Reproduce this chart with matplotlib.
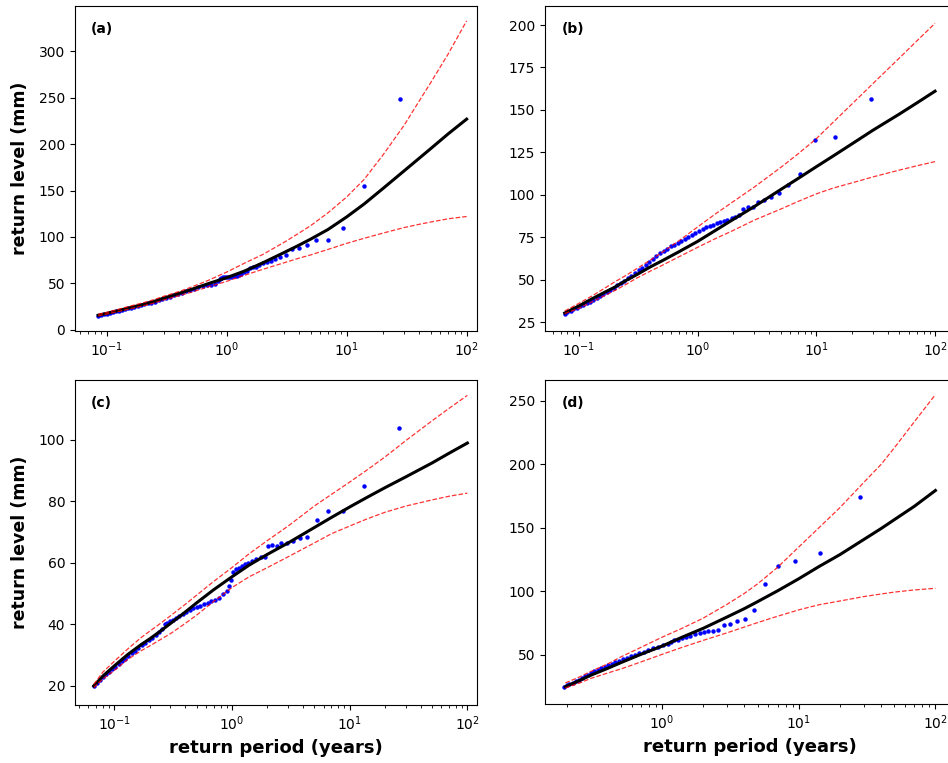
"""Return level plots for four stations: empirical points, fitted return
level curve and confidence bounds, on a log return-period axis.
"""
import matplotlib
matplotlib.use("Agg")
import matplotlib.pyplot as plt

W, H = 948, 763
DPI = 100

# ---- (a) ------------------------------------------------------------------
A_OBS_T = [0.085, 0.090, 0.095, 0.100, 0.106, 0.112, 0.119, 0.126, 0.134, 0.142,
           0.151, 0.160, 0.170, 0.181, 0.193, 0.206, 0.220, 0.236, 0.253, 0.272,
           0.292, 0.314, 0.338, 0.364, 0.393, 0.424, 0.458, 0.495, 0.535, 0.580,
           0.630, 0.685, 0.745, 0.800, 0.848, 0.875, 0.903, 0.933, 0.966, 1.00,
           1.04, 1.08, 1.12, 1.17, 1.22, 1.27, 1.33, 1.40, 1.47, 1.56,
           1.65, 1.75, 1.87, 2.00, 2.15, 2.33, 2.55, 2.80, 3.11, 3.50,
           4.00, 4.67, 5.60, 7.00, 9.33, 14.0, 28.0]
A_OBS = [15.0, 15.8, 16.5, 17.2, 18.0, 18.8, 19.6, 20.5, 21.4, 22.2,
         23.0, 23.8, 24.6, 25.5, 26.4, 27.3, 28.2, 29.2, 30.3, 31.6,
         33.0, 34.3, 35.6, 37.0, 38.3, 39.8, 41.3, 42.8, 44.2, 45.8,
         47.0, 47.8, 48.2, 48.8, 52.0, 55.0, 56.0, 56.3, 56.5, 56.6,
         56.8, 57.0, 57.3, 57.6, 58.0, 58.6, 60.5, 62.0, 63.5, 66.0,
         67.0, 68.0, 70.0, 72.0, 73.0, 74.0, 76.0, 78.0, 80.0, 87.0,
         88.0, 91.0, 97.0, 97.0, 110.0, 155.0, 249.0]
A_T = [0.085, 0.1, 0.13, 0.17, 0.2, 0.25, 0.3, 0.4, 0.5, 0.7, 1, 1.4, 2, 3, 4,
       5, 7, 10, 14, 20, 30, 40, 50, 70, 100]
A_FIT = [15.5, 17.5, 21, 24.8, 27, 30.5, 34, 39, 43, 49.5, 56, 63, 72, 83, 91,
         97.5, 108, 121.5, 135.5, 152, 171, 184.5, 195, 211, 227]
A_UP = [16.5, 18.5, 22.5, 26.5, 28.8, 32.5, 36, 41, 45.5, 53, 62, 71.5, 81, 94, 104,
        112, 126, 143, 162, 188, 220, 246, 266, 297, 333]
A_LO = [14.8, 16.8, 20, 23.5, 25.5, 28.8, 32, 36.5, 40, 46, 52, 58.5, 65, 72, 77,
        80.5, 86.5, 93, 98.5, 104, 110, 113.5, 116, 119.5, 122]

# ---- (b) ------------------------------------------------------------------
B_OBS_T = [0.076, 0.080, 0.085, 0.090, 0.096, 0.102, 0.109, 0.116, 0.124, 0.132,
           0.141, 0.150, 0.160, 0.171, 0.183, 0.196, 0.210, 0.225, 0.241, 0.258,
           0.277, 0.297, 0.318, 0.341, 0.366, 0.392, 0.420, 0.450, 0.482, 0.516,
           0.553, 0.592, 0.634, 0.679, 0.727, 0.779, 0.834, 0.893, 0.956, 1.02,
           1.10, 1.18, 1.26, 1.35, 1.45, 1.55, 1.66, 1.78, 1.93, 2.07,
           2.23, 2.42, 2.64, 2.90, 3.22, 3.63, 4.14, 4.83, 5.80, 7.25,
           9.67, 14.5, 29.0]
B_OBS = [30.0, 30.8, 31.6, 32.4, 33.3, 34.2, 35.1, 36.0, 37.0, 38.1,
         39.2, 40.3, 41.5, 42.7, 44.0, 45.3, 46.6, 47.8, 49.2, 50.7,
         52.3, 53.9, 55.4, 57.0, 58.8, 60.6, 62.4, 64.0, 65.6, 67.0,
         68.3, 69.5, 70.6, 71.6, 72.6, 73.8, 75.0, 76.3, 77.6, 78.8,
         79.8, 80.8, 81.6, 82.4, 83.2, 84.0, 84.7, 85.3, 86.0, 87.0,
         88.0, 91.5, 92.5, 93.0, 96.0, 97.0, 98.5, 101.0, 106.0, 112.0,
         132.0, 134.0, 156.5]
B_T = [0.076, 0.1, 0.13, 0.17, 0.2, 0.25, 0.3, 0.4, 0.5, 0.7, 1, 1.4, 2, 3, 5,
       7, 10, 14, 20, 30, 50, 70, 100]
B_FIT = [30.3, 34.5, 38.8, 43, 45.5, 49.5, 52.5, 57.5, 61, 66.5, 72.5, 78.8, 85.5, 93, 103,
         109.5, 116.5, 123, 130, 138, 147.5, 154, 161]
B_UP = [31.5, 36, 40.5, 45.5, 48.6, 52.5, 56, 61.5, 66, 73, 81, 88.5, 96, 104.5, 116,
        124, 133, 143, 153.5, 165.5, 180.5, 190.5, 201]
B_LO = [30, 33, 37, 41, 43.5, 47.2, 50.5, 55, 58.3, 63.5, 69, 74, 79, 85, 91.5,
        96, 100.5, 104, 107, 110.5, 114.5, 117, 119.5]

# ---- (c) ------------------------------------------------------------------
C_OBS_T = [0.067, 0.071, 0.075, 0.080, 0.085, 0.090, 0.096, 0.102, 0.109, 0.116,
           0.124, 0.132, 0.141, 0.150, 0.160, 0.171, 0.183, 0.196, 0.210, 0.225,
           0.240, 0.255, 0.268, 0.282, 0.298, 0.316, 0.336, 0.358, 0.382, 0.408,
           0.436, 0.467, 0.500, 0.536, 0.576, 0.620, 0.668, 0.720, 0.778, 0.840,
           0.900, 0.950, 0.990, 1.03, 1.08, 1.14, 1.21, 1.29, 1.38, 1.49,
           1.61, 1.75, 1.91, 2.02, 2.19, 2.39, 2.63, 2.92, 3.29, 3.76,
           4.38, 5.26, 6.58, 8.77, 13.2, 26.3]
C_OBS = [20.0, 21.0, 21.8, 22.8, 23.8, 24.6, 25.5, 26.2, 27.2, 28.0,
         28.9, 29.7, 30.6, 31.4, 32.3, 33.2, 34.0, 34.9, 35.7, 36.6,
         37.4, 38.5, 40.3, 40.5, 41.0, 41.6, 42.2, 42.8, 43.5, 44.2,
         44.8, 45.3, 45.7, 46.1, 46.6, 47.0, 47.5, 48.0, 48.6, 50.0,
         51.0, 52.5, 54.5, 57.0, 58.0, 58.5, 59.0, 59.5, 60.0, 60.5,
         61.3, 61.8, 62.0, 65.5, 65.8, 65.5, 66.5, 66.5, 67.0, 68.0,
         68.5, 74.0, 77.0, 77.0, 85.0, 104.0]
C_T = [0.067, 0.08, 0.1, 0.13, 0.17, 0.2, 0.25, 0.3, 0.4, 0.5, 0.7, 1, 1.4, 2, 3,
       5, 7, 10, 14, 20, 30, 50, 70, 100]
C_FIT = [20, 23.2, 26.5, 30.2, 33.5, 35.3, 38, 40.3, 44, 47, 51.3, 55.5, 59.3, 62.8, 66.5,
         71.5, 74.8, 78.2, 81.3, 84.5, 88, 92.5, 95.7, 99]
C_UP = [20.5, 24.5, 28, 32, 35.8, 37.8, 40.5, 42.8, 46.5, 49.5, 54, 58.5, 63, 67.3, 72,
        78.5, 82.3, 86.3, 90.2, 94.5, 99.8, 106.2, 110.3, 114.5]
C_LO = [19.5, 22.2, 25, 28.6, 31.5, 33, 35.2, 37, 40.3, 43, 47.5, 52, 55.5, 58.5, 62,
        66.5, 69.5, 72, 74.3, 76.5, 78.5, 80.5, 81.7, 82.7]

# ---- (d) ------------------------------------------------------------------
D_OBS_T = [0.190, 0.200, 0.210, 0.221, 0.233, 0.245, 0.258, 0.272, 0.287, 0.303,
           0.320, 0.338, 0.358, 0.380, 0.403, 0.428, 0.455, 0.485, 0.517, 0.553,
           0.592, 0.635, 0.683, 0.735, 0.793, 0.858, 0.930, 1.01, 1.10, 1.16,
           1.22, 1.30, 1.39, 1.49, 1.61, 1.75, 1.89, 2.02, 2.18, 2.36,
           2.57, 2.83, 3.14, 3.54, 4.04, 4.72, 5.66, 7.08, 9.43, 14.2, 28.3]
D_OBS = [25.0, 26.0, 27.0, 28.0, 29.2, 30.4, 31.8, 33.2, 34.6, 35.8,
         37.0, 38.2, 39.4, 40.6, 41.8, 43.0, 44.2, 45.4, 46.6, 47.8,
         49.0, 50.2, 51.4, 52.6, 54.0, 55.2, 56.5, 57.6, 58.6, 60.5,
         61.5, 62.0, 63.0, 63.8, 65.0, 66.2, 67.0, 68.0, 68.5, 69.0,
         70.0, 73.6, 74.4, 76.5, 78.3, 85.4, 105.7, 120.0, 124.3, 130.0, 174.2]
D_T = [0.196, 0.25, 0.3, 0.4, 0.5, 0.7, 1, 1.4, 2, 3, 4, 5, 7, 10, 14, 20, 30,
       40, 50, 70, 100]
D_FIT = [25, 30, 34, 39.5, 44, 50.5, 57, 64, 71, 80, 86.5, 92, 100.5, 110, 119.5, 129, 141,
         149.5, 156.5, 167, 179.5]
D_UP = [28, 32.8, 37, 43, 48.5, 56, 64, 71, 79, 90, 98.5, 106, 119, 135, 150, 166, 186,
        200, 213, 233.5, 255]
D_LO = [24, 28, 31.5, 35.8, 39, 44.5, 50.5, 56, 61.5, 67.5, 72, 75.5, 80.5, 85.5, 89.5, 92.5, 96,
        98, 99.5, 101.2, 102.5]

PANELS = [
    ("(a)", A_OBS_T, A_OBS, A_T, A_FIT, A_UP, A_LO),
    ("(b)", B_OBS_T, B_OBS, B_T, B_FIT, B_UP, B_LO),
    ("(c)", C_OBS_T, C_OBS, C_T, C_FIT, C_UP, C_LO),
    ("(d)", D_OBS_T, D_OBS, D_T, D_FIT, D_UP, D_LO),
]

# axes boxes in pixels (left, top, right, bottom); right column runs off the edge
BOXES = [(75, 6, 477, 331), (545, 6, 954, 331),
         (75, 380, 477, 705), (545, 380, 954, 704)]
XLIMS = [(0.0545, 122), (0.0518, 144.5), (0.0464, 120.7), (0.139, 136.8)]
YLIMS = [(-1.5, 349), (19.7, 211.2), (13.8, 119.5), (11.4, 266.5)]


def box(l, t, r, b):
    return [l / W, 1 - b / H, (r - l) / W, (b - t) / H]


def draw_panel(ax, tag, obs_t, obs, t, fit, up, lo):
    ax.plot(obs_t, obs, "o", ms=3.2, color="blue", mec="none", zorder=2)
    ax.plot(t, fit, color="black", lw=2.2, zorder=3)
    ax.plot(t, up, "--", color="red", lw=0.9, alpha=0.8, zorder=4)
    ax.plot(t, lo, "--", color="red", lw=0.9, alpha=0.8, zorder=4)
    ax.set_xscale("log")
    ax.tick_params(labelsize=10)
    ax.text(0.04, 0.93, tag, transform=ax.transAxes, fontsize=10,
            fontweight="bold", va="center", ha="left")


def make():
    fig = plt.figure(figsize=(W / DPI, H / DPI), dpi=DPI)
    for i, p in enumerate(PANELS):
        ax = fig.add_axes(box(*BOXES[i]))
        draw_panel(ax, *p)
        ax.set_xlim(*XLIMS[i])
        ax.set_ylim(*YLIMS[i])
        if i % 2 == 0:
            ax.set_ylabel("return level (mm)", fontsize=12.5, fontweight="bold")
            ax.yaxis.set_label_coords(-0.115, 0.5)
        if i >= 2:
            ax.set_xlabel("return period (years)", fontsize=13, fontweight="bold")
    fig.savefig("out.png", dpi=DPI)
    plt.close(fig)


if __name__ == "__main__":
    make()
